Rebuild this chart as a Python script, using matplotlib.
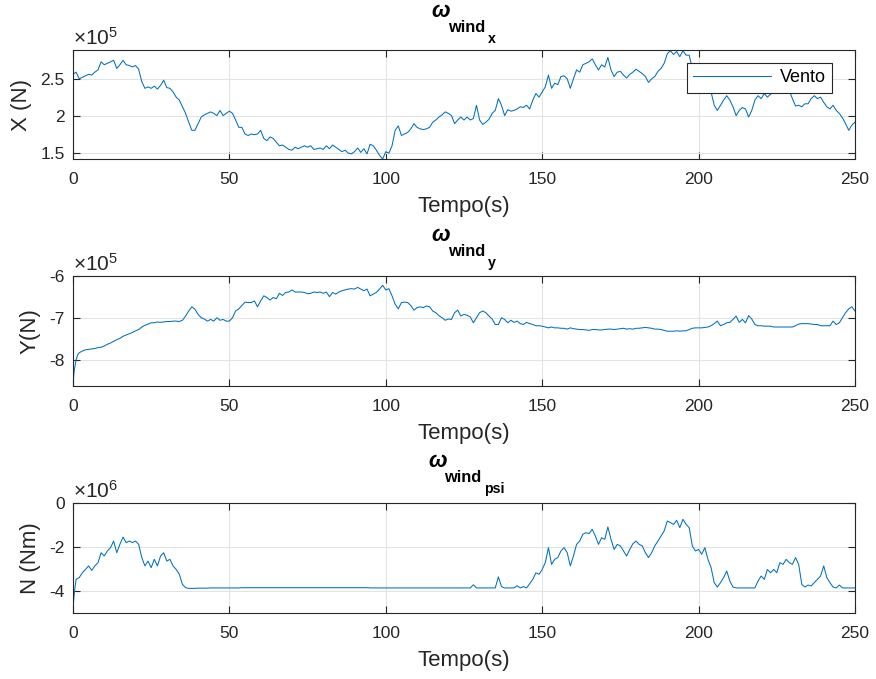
"""
Wind forces on the vessel: X, Y and yaw moment N over 250 s.
Three stacked panels in MATLAB-like styling.
"""

import matplotlib

matplotlib.use("Agg")
import matplotlib.pyplot as plt
import numpy as np
from matplotlib.ticker import FuncFormatter

# ── Data (values in units of the axis exponent) ─────────────────────────────
# X force, x1e5 N, one sample per second (t = 0..250)
time_x = np.arange(0, 251)
wind_x = [
    2.57, 2.60, 2.51, 2.53, 2.55, 2.57, 2.56, 2.60, 2.63, 2.74,
    2.70, 2.72, 2.74, 2.76, 2.65, 2.70, 2.76, 2.70, 2.69, 2.67,
    2.69, 2.64, 2.47, 2.38, 2.40, 2.38, 2.41, 2.37, 2.42, 2.49,
    2.39, 2.38, 2.33, 2.26, 2.22, 2.13, 2.04, 1.92, 1.81, 1.81,
    1.90, 1.99, 2.02, 2.04, 2.06, 2.04, 2.01, 2.08, 2.01, 2.04,
    2.07, 2.04, 1.95, 1.85, 1.85, 1.76, 1.74, 1.76, 1.75, 1.76,
    1.81, 1.70, 1.67, 1.72, 1.70, 1.65, 1.60, 1.61, 1.58, 1.55,
    1.54, 1.58, 1.56, 1.58, 1.60, 1.58, 1.60, 1.55, 1.56, 1.57,
    1.55, 1.60, 1.56, 1.61, 1.58, 1.55, 1.52, 1.54, 1.50, 1.49,
    1.52, 1.57, 1.51, 1.56, 1.49, 1.62, 1.60, 1.54, 1.47, 1.42,
    1.52, 1.50, 1.60, 1.81, 1.87, 1.74, 1.76, 1.78, 1.83, 1.90,
    1.85, 1.83, 1.82, 1.83, 1.85, 1.92, 1.95, 1.99, 2.02, 2.06,
    2.04, 2.01, 1.90, 1.95, 1.99, 1.95, 1.99, 1.95, 1.97, 2.15,
    1.95, 1.89, 1.92, 1.96, 2.04, 2.08, 2.24, 2.15, 2.01, 2.09,
    2.07, 2.08, 2.10, 2.13, 2.12, 2.15, 2.10, 2.22, 2.31, 2.26,
    2.33, 2.40, 2.56, 2.38, 2.45, 2.43, 2.54, 2.55, 2.51, 2.38,
    2.51, 2.63, 2.60, 2.70, 2.72, 2.74, 2.78, 2.70, 2.63, 2.70,
    2.67, 2.80, 2.63, 2.54, 2.60, 2.61, 2.56, 2.52, 2.57, 2.60,
    2.64, 2.61, 2.58, 2.54, 2.46, 2.51, 2.54, 2.61, 2.65, 2.72,
    2.85, 2.89, 2.84, 2.88, 2.81, 2.89, 2.83, 2.83, 2.65, 2.60,
    2.50, 2.45, 2.40, 2.35, 2.33, 2.15, 2.08, 2.15, 2.22, 2.28,
    2.22, 2.13, 2.01, 2.08, 2.12, 2.10, 1.99, 2.08, 2.22, 2.28,
    2.24, 2.31, 2.26, 2.30, 2.33, 2.38, 2.42, 2.40, 2.38, 2.35,
    2.24, 2.14, 2.15, 2.13, 2.17, 2.17, 2.24, 2.28, 2.24, 2.26,
    2.19, 2.13, 2.10, 2.15, 2.08, 2.04, 1.98, 1.90, 1.81, 1.88,
    1.92,
]

# Y force, x1e5 N (denser at the start-up transient)
time_y = np.concatenate([[0.0, 0.25, 0.5, 1.0, 1.5], np.arange(2, 251)])
wind_y = [
    -8.60, -8.35, -8.20, -7.99, -7.87,
    -7.82, -7.78, -7.75, -7.74, -7.73, -7.72, -7.70, -7.69,
    -7.66, -7.62, -7.59, -7.55, -7.51, -7.48, -7.43, -7.40, -7.37, -7.34,
    -7.30, -7.27, -7.21, -7.17, -7.14, -7.11, -7.11, -7.09, -7.10, -7.09,
    -7.08, -7.08, -7.07, -7.07, -7.08, -7.05, -6.95, -6.83, -6.73, -6.79,
    -6.91, -6.99, -7.02, -7.07, -7.03, -7.07, -6.99, -7.05, -7.03, -7.07,
    -7.07, -6.99, -6.83, -6.78, -6.70, -6.62, -6.63, -6.63, -6.59, -6.73,
    -6.59, -6.47, -6.51, -6.57, -6.51, -6.54, -6.41, -6.46, -6.39, -6.38,
    -6.33, -6.38, -6.38, -6.38, -6.39, -6.42, -6.41, -6.38, -6.39, -6.38,
    -6.41, -6.38, -6.49, -6.39, -6.43, -6.38, -6.35, -6.33, -6.31, -6.30,
    -6.31, -6.27, -6.31, -6.35, -6.31, -6.47, -6.43, -6.39, -6.31, -6.22,
    -6.33, -6.30, -6.47, -6.67, -6.78, -6.63, -6.62, -6.63, -6.70, -6.81,
    -6.75, -6.73, -6.75, -6.71, -6.73, -6.83, -6.87, -6.94, -6.99, -7.05,
    -7.02, -7.03, -6.87, -6.81, -6.95, -6.91, -6.93, -6.97, -7.11, -6.99,
    -6.87, -6.83, -6.87, -6.95, -7.02, -7.15, -7.15, -6.99, -7.03, -7.11,
    -7.05, -7.10, -7.07, -7.13, -7.15, -7.10, -7.13, -7.15, -7.18, -7.18,
    -7.19, -7.21, -7.23, -7.21, -7.23, -7.23, -7.24, -7.24, -7.26, -7.23,
    -7.25, -7.26, -7.27, -7.27, -7.28, -7.29, -7.27, -7.27, -7.28, -7.28,
    -7.27, -7.26, -7.26, -7.27, -7.26, -7.25, -7.24, -7.26, -7.25, -7.26,
    -7.24, -7.24, -7.23, -7.22, -7.23, -7.24, -7.26, -7.26, -7.27, -7.29,
    -7.31, -7.31, -7.31, -7.30, -7.31, -7.30, -7.30, -7.27, -7.24, -7.23,
    -7.23, -7.23, -7.22, -7.21, -7.18, -7.13, -7.07, -7.18, -7.15, -7.11,
    -7.10, -7.03, -6.95, -7.10, -7.03, -7.11, -6.94, -7.02, -7.15, -7.18,
    -7.18, -7.19, -7.19, -7.19, -7.21, -7.21, -7.21, -7.21, -7.21, -7.21,
    -7.21, -7.18, -7.14, -7.13, -7.13, -7.13, -7.14, -7.15, -7.15, -7.18,
    -7.18, -7.18, -7.18, -7.07, -7.15, -7.11, -6.99, -6.87, -6.78, -6.73,
    -6.83,
]

# Yaw moment N, x1e6 Nm
time_n = np.concatenate([[0.0, 0.5], np.arange(1, 251)])
wind_n = [
    -4.76, -4.00,
    -3.47, -3.39, -3.17, -3.02, -2.86, -3.06, -2.86, -2.71, -2.26,
    -2.41, -2.18, -2.03, -1.73, -2.26, -1.88, -1.55, -1.80, -1.73, -1.80,
    -1.73, -1.88, -2.48, -2.86, -2.64, -2.94, -2.56, -2.86, -2.41, -2.26,
    -2.64, -2.56, -2.86, -3.02, -3.24, -3.70, -3.85, -3.88, -3.88, -3.88,
    -3.87, -3.87, -3.87, -3.87, -3.86, -3.86, -3.86, -3.86, -3.86, -3.86,
    -3.86, -3.86, -3.86, -3.86, -3.85, -3.85, -3.85, -3.85, -3.85, -3.85,
    -3.85, -3.85, -3.85, -3.85, -3.85, -3.85, -3.85, -3.85, -3.85, -3.85,
    -3.85, -3.85, -3.85, -3.85, -3.85, -3.85, -3.85, -3.85, -3.85, -3.85,
    -3.85, -3.85, -3.85, -3.85, -3.85, -3.85, -3.85, -3.85, -3.85, -3.85,
    -3.85, -3.85, -3.85, -3.85, -3.85, -3.86, -3.86, -3.86, -3.86, -3.86,
    -3.86, -3.86, -3.86, -3.86, -3.86, -3.86, -3.86, -3.86, -3.86, -3.86,
    -3.86, -3.86, -3.86, -3.86, -3.86, -3.86, -3.86, -3.86, -3.86, -3.86,
    -3.86, -3.86, -3.86, -3.86, -3.86, -3.86, -3.86, -3.86, -3.72, -3.86,
    -3.86, -3.86, -3.86, -3.86, -3.86, -3.86, -3.36, -3.80, -3.86, -3.86,
    -3.86, -3.86, -3.76, -3.86, -3.80, -3.86, -3.67, -3.47, -3.17, -3.24,
    -3.02, -2.71, -2.03, -2.79, -2.56, -2.48, -2.18, -2.03, -2.26, -2.86,
    -2.41, -1.88, -1.73, -1.42, -1.35, -1.39, -1.20, -1.50, -1.88, -1.58,
    -1.65, -1.09, -1.65, -2.11, -1.88, -1.95, -2.18, -2.41, -2.11, -1.85,
    -1.73, -1.88, -1.95, -2.26, -2.48, -2.26, -1.95, -1.73, -1.50, -1.27,
    -0.82, -0.89, -0.97, -0.79, -1.12, -0.74, -0.97, -1.12, -1.95, -2.18,
    -2.11, -2.33, -2.03, -2.56, -2.94, -3.62, -3.82, -3.62, -3.39, -3.09,
    -3.55, -3.82, -3.86, -3.86, -3.86, -3.86, -3.86, -3.86, -3.86, -3.55,
    -3.32, -3.47, -3.02, -3.17, -3.02, -3.17, -2.71, -2.79, -2.56, -2.71,
    -2.79, -2.48, -2.79, -3.70, -3.82, -3.73, -3.77, -3.62, -3.47, -3.32,
    -2.86, -3.39, -3.62, -3.82, -3.86, -3.73, -3.86, -3.86, -3.86, -3.86,
    -3.86,
]

X_TICKS = [0, 50, 100, 150, 200, 250]
LINE_COLOR = "#0072BD"
DARK = "#262626"
PX = 0.72  # points per pixel at dpi=100

# ── Fonts (Helvetica-like, mathtext in the same family) ─────────────────────
plt.rcParams["font.family"] = ["Liberation Sans", "DejaVu Sans"]
plt.rcParams["mathtext.fontset"] = "custom"
plt.rcParams["mathtext.rm"] = "Liberation Sans"
plt.rcParams["mathtext.it"] = "Liberation Sans:italic"
plt.rcParams["mathtext.bf"] = "Liberation Sans:bold"
plt.rcParams["mathtext.bfit"] = "Liberation Sans:italic:bold"


# ── MATLAB-like "\omega_{wind_sub}" title built from three pieces ───────────
# offsets in pixels from the top-centre of the axes: (dx_left, dy_baseline)
def wind_title(ax, sub, dx_omega, dx_wind, dx_sub, lift=0):
    pieces = [
        (r"$\mathbfit{\omega}$", 16, dx_omega, 33 + lift, "normal"),
        ("wind", 11.8, dx_wind, 18 + lift, "bold"),
        (sub, 10.2, dx_sub, 7 + lift, "bold"),
    ]
    for txt, size, dx, dy, weight in pieces:
        ax.annotate(txt, xy=(0.5, 1.0), xycoords="axes fraction",
                    xytext=(dx * PX, dy * PX), textcoords="offset points",
                    ha="left", va="baseline", fontsize=size,
                    fontweight=weight, color="black")


def style_axes(ax, ylim, yticks, ylabel, exponent):
    ax.set_xlim(0, 250)
    ax.set_ylim(*ylim)
    ax.set_xticks(X_TICKS)
    ax.set_yticks(yticks)
    ax.yaxis.set_major_formatter(FuncFormatter(lambda v, _: f"{v:g}"))
    ax.grid(True, color="#e3e3e3", linewidth=0.8)
    ax.set_axisbelow(True)
    ax.tick_params(direction="in", top=True, right=True, length=5, width=0.8,
                   colors=DARK, labelsize=12.5)
    ax.tick_params(axis="x", pad=9)
    ax.tick_params(axis="y", pad=6)
    for spine in ax.spines.values():
        spine.set_color(DARK)
        spine.set_linewidth(0.8)
    ax.set_xlabel("Tempo(s)", fontsize=16, color=DARK, labelpad=7)
    ax.set_ylabel(ylabel, fontsize=16, color=DARK, labelpad=6)
    ax.text(0.0, 1.012, rf"$\times10^{{{exponent}}}$", transform=ax.transAxes,
            fontsize=15, color=DARK, ha="left", va="bottom")


fig = plt.figure(figsize=(8.76, 6.79), dpi=100)
ax_x = fig.add_axes([0.0833, 0.7658, 0.8927, 0.1605])
ax_y = fig.add_axes([0.0833, 0.4315, 0.8927, 0.1620])
ax_n = fig.add_axes([0.0833, 0.0972, 0.8927, 0.1620])

# ── Panel 1: X ──────────────────────────────────────────────────────────────
ax_x.plot(time_x, wind_x, color=LINE_COLOR, linewidth=0.75, label="Vento")
style_axes(ax_x, (1.42, 2.90), [1.5, 2, 2.5], "X (N)", 5)
wind_title(ax_x, "x", -33, -16, 24)
leg = ax_x.legend(loc="upper right", bbox_to_anchor=(0.9706, 0.881),
                  fontsize=13, handlelength=4.3, fancybox=False, framealpha=1,
                  borderaxespad=0, borderpad=0.35, handletextpad=0.5)
leg.get_frame().set_edgecolor(DARK)
leg.get_frame().set_linewidth(0.8)

# ── Panel 2: Y ──────────────────────────────────────────────────────────────
ax_y.plot(time_y, wind_y, color=LINE_COLOR, linewidth=0.75)
style_axes(ax_y, (-8.61, -6.0), [-8, -7, -6], "Y(N)", 5)
wind_title(ax_y, "y", -33, -16, 24, lift=2)

# ── Panel 3: N ──────────────────────────────────────────────────────────────
ax_n.plot(time_n, wind_n, color=LINE_COLOR, linewidth=0.75)
style_axes(ax_n, (-5.0, 0.0), [-4, -2, 0], "N (Nm)", 6)
wind_title(ax_n, "psi", -36, -20, 20, lift=3)

fig.savefig("out.png", dpi=100)
